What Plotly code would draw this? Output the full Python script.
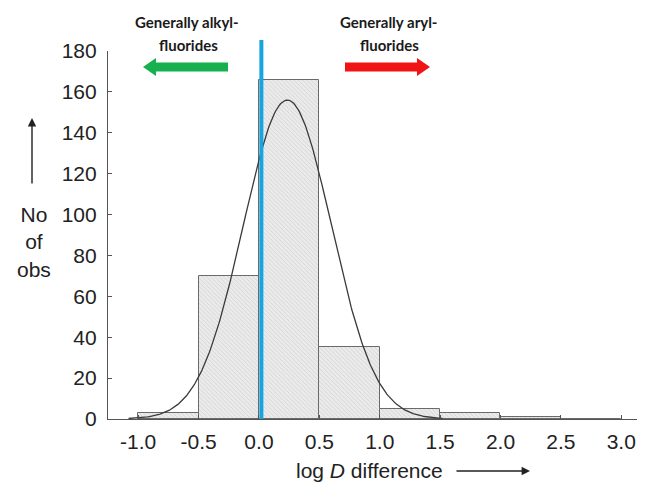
import numpy as np
import plotly.graph_objects as go

# ---- data ----
bin_left = [-1.0, -0.5, 0.0, 0.5, 1.0, 1.5, 2.0, 2.5]
bin_width = 0.5
counts = [3, 70, 166, 35, 5, 3, 1, 0]
x_ticks = [-1.0, -0.5, 0.0, 0.5, 1.0, 1.5, 2.0, 2.5, 3.0]
x_tick_labels = ["-1.0", "-0.5", "0.0", "0.5", "1.0", "1.5", "2.0", "2.5", "3.0"]
y_ticks = [0, 20, 40, 60, 80, 100, 120, 140, 160, 180]
# fitted normal curve
fit_mean = 0.235
fit_sd = 0.365
fit_peak = 156
fit_range = [-1.08, 1.52]
split_line_x = 0.02

# ---- layout geometry (pixels); page has an 8px body margin ----
OFF = 8
W, H = 637, 479
L, R, T, B = 100, 2, 43, 68
PW, PH = W - L - R, H - T - B


def px(x):
    return (x - OFF - L) / PW


def py(y):
    return (H - B - (y - OFF)) / PH


bar_centers = [b + bin_width / 2 for b in bin_left]
fig = go.Figure()
fig.add_trace(go.Bar(
    x=bar_centers, y=counts, width=[bin_width] * len(counts),
    marker=dict(color="#e6e6e6",
                line=dict(color="#6a6a6a", width=1),
                pattern=dict(shape="\\", fgcolor="#b0b0b0", bgcolor="#ebebeb",
                             size=3, solidity=0.25)),
    showlegend=False, hoverinfo="skip",
))

xc = np.linspace(fit_range[0], fit_range[1], 300)
yc = fit_peak * np.exp(-0.5 * ((xc - fit_mean) / fit_sd) ** 2)
fig.add_trace(go.Scatter(x=xc, y=yc, mode="lines",
                         line=dict(color="#3a3a3a", width=1.3),
                         showlegend=False, hoverinfo="skip"))

shapes = []
shapes.append(dict(type="line", xref="x", yref="paper", x0=split_line_x, x1=split_line_x,
                   y0=0, y1=py(40), line=dict(color="#18A4DF", width=4), layer="above"))


def arrow_path(x_tail, x_tip, yc_, body_h=9, head_h=18, head_len=13):
    d = 1 if x_tip > x_tail else -1
    xb = x_tip - d * head_len
    pts = [(x_tail, yc_ - body_h / 2), (xb, yc_ - body_h / 2), (xb, yc_ - head_h / 2),
           (x_tip, yc_), (xb, yc_ + head_h / 2), (xb, yc_ + body_h / 2), (x_tail, yc_ + body_h / 2)]
    return "M " + " L ".join(f"{px(a):.5f},{py(b):.5f}" for a, b in pts) + " Z"


shapes.append(dict(type="path", xref="paper", yref="paper", path=arrow_path(228, 143, 67),
                   fillcolor="#17B04E", line=dict(width=0)))
shapes.append(dict(type="path", xref="paper", yref="paper", path=arrow_path(345, 430, 67),
                   fillcolor="#F01414", line=dict(width=0)))

annotations = []
tfont = dict(family="Lato, Open Sans, sans-serif", size=15, color="#1a1a1a")
common = dict(xref="paper", yref="paper", xanchor="center", yanchor="middle")
for cx, l1 in [(187, "Generally alkyl-"), (388, "Generally aryl-")]:
    annotations.append(dict(**common, x=px(cx), y=py(22), showarrow=False,
                            text=f"<b>{l1}</b>", font=tfont))
    annotations.append(dict(**common, x=px(cx + 1), y=py(45), showarrow=False,
                            text="<b>fluorides</b>", font=tfont))

afont = dict(family="Liberation Sans, Arial, sans-serif", size=21, color="#222222")
annotations.append(dict(**common, x=px(34), y=py(242), showarrow=False,
                        text="No<br>of<br>obs", font=afont, align="center"))
annotations.append(dict(**common, x=px(32), y=py(118), ax=0, ay=67,
                        showarrow=True, arrowhead=2, arrowsize=1.2, arrowwidth=1.4,
                        arrowcolor="#222222", text=""))
annotations.append(dict(**common, x=px(369), y=py(470), showarrow=False,
                        text="log <i>D</i> difference", font=afont))
annotations.append(dict(**common, x=px(530), y=py(471), ax=-75, ay=0,
                        showarrow=True, arrowhead=2, arrowsize=1.2, arrowwidth=1.4,
                        arrowcolor="#222222", text=""))

tickfont = dict(family="Liberation Sans, Arial, sans-serif", size=21, color="#222222")
fig.update_layout(
    width=W, height=H, margin=dict(l=L, r=R, t=T, b=B),
    plot_bgcolor="white", paper_bgcolor="white",
    bargap=0, shapes=shapes, annotations=annotations,
    xaxis=dict(range=[-1.25, 3.18], tickvals=x_ticks, ticktext=x_tick_labels,
               showgrid=False, zeroline=False, showline=True, linecolor="#555555", linewidth=1.2,
               ticks="inside", ticklen=4, tickcolor="#555555", ticklabelstandoff=4,
               tickfont=tickfont),
    yaxis=dict(range=[0, 180], tickvals=y_ticks, showgrid=False, zeroline=False,
               showline=True, linecolor="#555555", linewidth=1.2,
               ticks="inside", ticklen=4, tickcolor="#555555", ticklabelstandoff=6,
               tickfont=tickfont),
)

fig.write_html("out.html")
